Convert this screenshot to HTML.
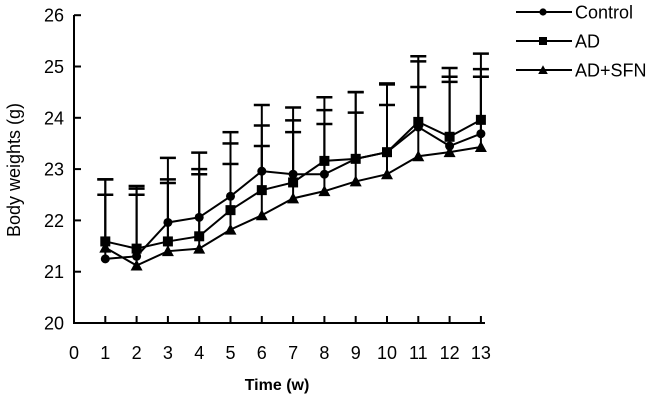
<!DOCTYPE html>
<html><head><meta charset="utf-8"><style>
body{margin:0;background:#fff}
svg{display:block;font-family:"Liberation Sans",Arial,sans-serif}
</style></head><body>
<svg width="656" height="401" viewBox="0 0 656 401">
<g id="axes"></g><g id="series"></g><g id="legend"></g>
<text x="20" y="170" font-size="18" text-anchor="middle" transform="rotate(-90 20 170)">Body weights (g)</text>
<text x="277" y="390" font-size="16" font-weight="bold" text-anchor="middle">Time (w)</text>
</svg>
<script>
const weeks=[1,2,3,4,5,6,7,8,9,10,11,12,13];
const xTicks=[0,1,2,3,4,5,6,7,8,9,10,11,12,13];
const yTicks=[20,21,22,23,24,25,26];
const seriesNames=["Control","AD","AD+SFN"];
const controlMean=[21.25,21.3,21.96,22.06,22.47,22.96,22.9,22.9,23.2,23.33,23.82,23.45,23.69];
const adMean=[21.59,21.45,21.59,21.69,22.2,22.59,22.74,23.16,23.2,23.33,23.92,23.63,23.96];
const sfnMean=[21.47,21.12,21.4,21.45,21.82,22.1,22.43,22.57,22.76,22.9,23.25,23.33,23.43];
const controlTop=[22.8,22.67,23.22,23.32,23.72,24.25,24.2,24.4,24.5,24.67,25.2,24.97,25.25];
const adTop=[22.5,22.62,22.8,23.0,23.5,23.85,23.95,24.15,24.5,24.65,25.1,24.8,24.95];
const sfnTop=[22.8,22.5,22.73,22.9,23.1,23.45,23.72,23.88,24.1,24.25,24.6,24.7,24.8];
const NS="http://www.w3.org/2000/svg";
const X=v=>74+v*31.3, Y=v=>323-(v-20)*51.3;
function mk(t,a,p){const e=document.createElementNS(NS,t);for(const k in a)e.setAttribute(k,a[k]);p.appendChild(e);return e;}
const ax=document.getElementById('axes');
let l=mk('line',{x1:74,y1:15,x2:74,y2:324,stroke:'#000','stroke-width':2},ax);


l=mk('line',{x1:73,y1:323,x2:485,y2:323,stroke:'#000','stroke-width':2},ax);


yTicks.forEach(v=>{mk('line',{x1:74,y1:Y(v),x2:81,y2:Y(v),stroke:'#000','stroke-width':2},ax);
const t=mk('text',{x:64,y:Y(v)+6.5,'font-size':18,'text-anchor':'end'},ax);t.textContent=v;

});
xTicks.forEach(v=>{if(v>0)mk('line',{x1:X(v),y1:316,x2:X(v),y2:323,stroke:'#000','stroke-width':2},ax);
const t=mk('text',{x:X(v),y:359,'font-size':18,'text-anchor':'middle'},ax);t.textContent=v;

});
const sg=document.getElementById('series');
function marker(kind,x,y,p,sc){sc=sc||1;
 if(kind==0)return mk('circle',{cx:x,cy:y,r:4.5*sc,fill:'#000'},p);
 if(kind==1)return mk('rect',{x:x-5*sc,y:y-5*sc,width:10*sc,height:10*sc,fill:'#000'},p);
 return mk('polygon',{points:`${x},${y-6*sc} ${x-6*sc},${y+5*sc} ${x+6*sc},${y+5*sc}`,fill:'#000'},p);}
const means=[controlMean,adMean,sfnMean],tops=[controlTop,adTop,sfnTop];
means.forEach((m,s)=>{const g=mk('g',{},sg);


weeks.forEach((w,i)=>{mk('line',{x1:X(w),y1:Y(m[i]),x2:X(w),y2:Y(tops[s][i]),stroke:'#000','stroke-width':2},g);
mk('line',{x1:X(w)-8,y1:Y(tops[s][i]),x2:X(w)+8,y2:Y(tops[s][i]),stroke:'#000','stroke-width':2.5},g);});
mk('polyline',{points:weeks.map((w,i)=>X(w)+','+Y(m[i])).join(' '),fill:'none',stroke:'#000','stroke-width':2},g);
weeks.forEach((w,i)=>{const e=marker(s,X(w),Y(m[i]),g);

});});
const lg=document.getElementById('legend');
seriesNames.forEach((n,i)=>{const y=12+i*29;const g=mk('g',{},lg);


mk('line',{x1:516,y1:y,x2:572,y2:y,stroke:'#000','stroke-width':2},g);
marker(i,543,y,g,0.8);
const t=mk('text',{x:575,y:y+6.5,'font-size':18},g);t.textContent=n;});
</script>
</body></html>
